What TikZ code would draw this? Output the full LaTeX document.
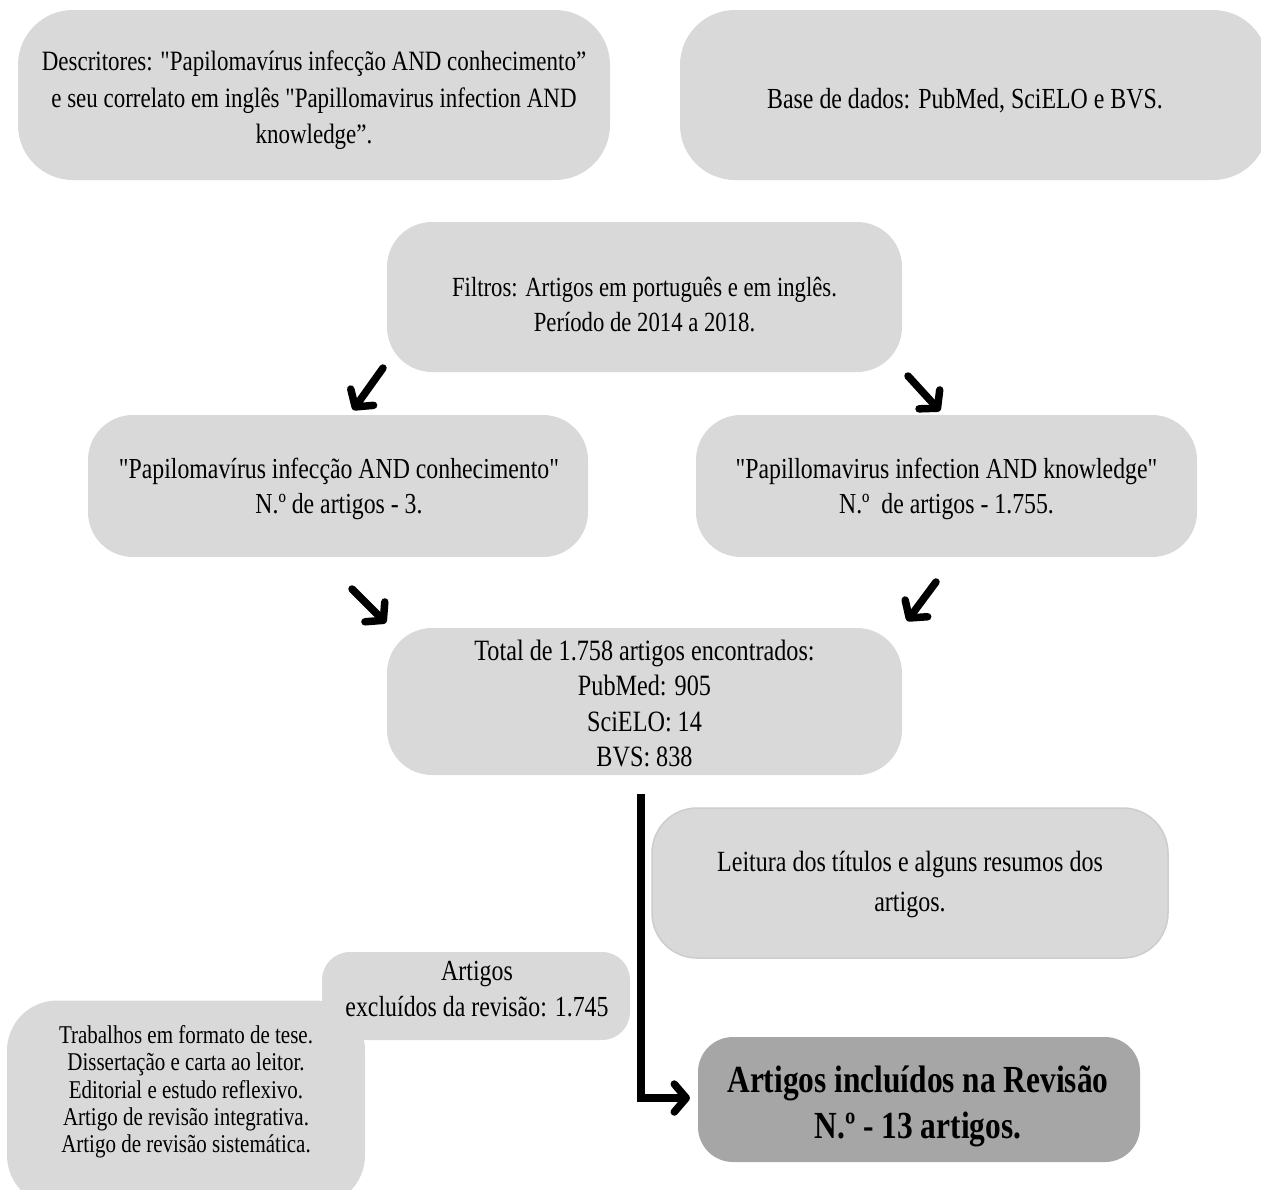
\documentclass[tikz,border=0pt]{standalone}
\usepackage{fontspec}
\setmainfont{Liberation Serif}[FakeStretch=0.82, Ligatures=TeXOff]
\usetikzlibrary{arrows.meta}
\definecolor{boxgray}{RGB}{217,217,217}
\definecolor{darkgray}{RGB}{166,166,166}
\newcommand{\fsA}{\fontsize{28}{36.5}\selectfont}
\newcommand{\fsF}{\fontsize{27.7}{35}\selectfont}
\newcommand{\fsB}{\fontsize{29}{35}\selectfont}
\newcommand{\fsT}{\fontsize{29.5}{35.3}\selectfont}
\newcommand{\fsL}{\fontsize{29.3}{40}\selectfont}
\newcommand{\fsC}{\fontsize{25.6}{27.3}\selectfont}
\newcommand{\fsD}{\fontsize{38.3}{46}\selectfont\bfseries}
\tikzset{
  box/.style={fill=boxgray, draw=none, rounded corners=45pt, inner sep=0pt},
  txt/.style={align=center, inner sep=0pt},
  arr/.style={line width=7.5pt, line cap=round, -{Straight Barb[length=12pt,width=28pt,round]}},
}
\begin{document}
\begin{tikzpicture}[x=1pt,y=-1pt]
\useasboundingbox (0,0) rectangle (1261,1189);
% top boxes
\node[box, minimum width=592pt, minimum height=170pt, rounded corners=55pt] (desc) at (314,95) {};
\node[txt, font=\fsA] (desct) at (314,100.5)
  {Descritores: "Papilomavírus infecção AND conhecimento”\\ e seu correlato em inglês "Papillomavirus infection AND\\ knowledge”.};
\node[box, minimum width=588pt, minimum height=170pt, rounded corners=55pt] (base) at (974,95) {};
\node[txt, font=\fontsize{29.1}{35}\selectfont] (baset) at (965,101) {Base de dados: PubMed, SciELO e BVS.};
% filtros
\node[box, minimum width=515pt, minimum height=150pt] (filt) at (644.5,297) {};
\node[txt, font=\fsF] (filtt) at (644.5,305)
  {Filtros: Artigos em português e em inglês.\\ Período de 2014 a 2018.};
% two search boxes
\node[box, minimum width=500pt, minimum height=142pt] (pt) at (338,486) {};
\node[txt, font=\fsB] (ptt) at (339,489)
  {"Papilomavírus infecção AND conhecimento"\\ N.º de artigos - 3.};
\node[box, minimum width=501pt, minimum height=142pt] (en) at (946.5,486) {};
\node[txt, font=\fsB] (ent) at (946.5,489)
  {"Papillomavirus infection AND knowledge"\\ N.º\ \ de artigos - 1.755.};
% total
\node[box, minimum width=515pt, minimum height=147pt] (tot) at (644.5,701.5) {};
\node[txt, font=\fsT] (tott) at (644.5,703.5)
  {Total de 1.758 artigos encontrados:\\ PubMed: 905\\ SciELO: 14\\ BVS: 838};
% leitura
\node[box, draw={rgb,255:red,205;green,205;blue,205}, line width=1.5pt, minimum width=516pt, minimum height=150pt] (leit) at (910,883) {};
\node[txt, font=\fsL] (leitt) at (910,884)
  {Leitura dos títulos e alguns resumos dos\\ artigos.};
% excluded
\node[box, minimum width=358pt, minimum height=205pt, rounded corners=50pt] (trab) at (186,1103) {};
\node[txt, font=\fsC] (trabt) at (186,1092)
  {Trabalhos em formato de tese.\\ Dissertação e carta ao leitor.\\ Editorial e estudo reflexivo.\\ Artigo de revisão integrativa.\\ Artigo de revisão sistemática.};
\node[box, minimum width=308pt, minimum height=88pt, rounded corners=28pt] (excl) at (476,996) {};
\node[txt, font=\fontsize{29.1}{36}\selectfont] (exclt) at (477,989)
  {Artigos\\ excluídos da revisão: 1.745};
% included
\node[box, fill=darkgray, minimum width=442pt, minimum height=125pt, rounded corners=35pt] (incl) at (919,1099.5) {};
\node[txt, font=\fsD] (inclt) at (918,1106)
  {Artigos incluídos na Revisão\\ N.º - 13 artigos.};
% arrows
\coordinate (a1s) at (383,368);
\coordinate (a1e) at (353,410);
\coordinate (a2s) at (908,376);
\coordinate (a2e) at (940,411);
\coordinate (a3s) at (352,589);
\coordinate (a3e) at (386,623);
\coordinate (a4s) at (936,582);
\coordinate (a4e) at (907,621);
\draw[arr] (a1s) -- (a1e);
\draw[arr] (a2s) -- (a2e);
\draw[arr] (a3s) -- (a3e);
\draw[arr] (a4s) -- (a4e);
\coordinate (ls) at (641,794);
\coordinate (le) at (690,1098);
\draw[arr, line cap=butt] (ls) |- (le);
\end{tikzpicture}
\end{document}
